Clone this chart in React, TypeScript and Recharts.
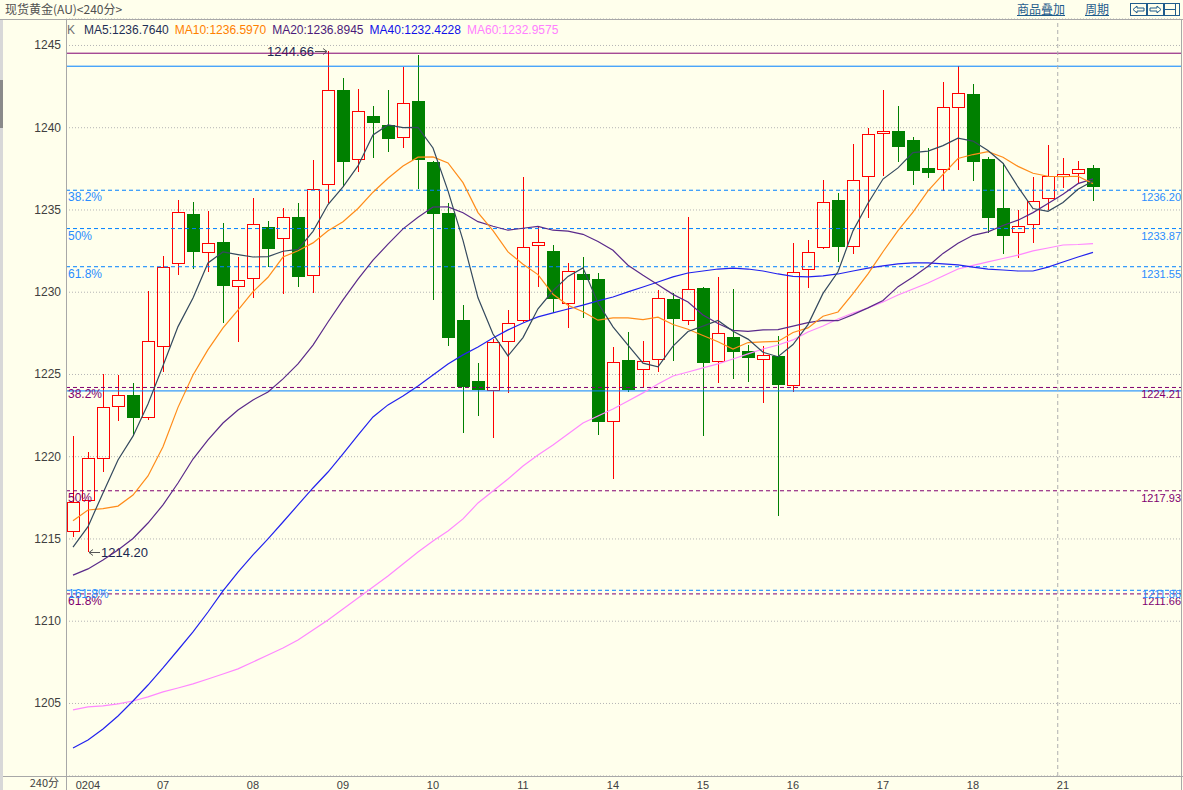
import React from 'react';
import { ComposedChart, Bar, Line, XAxis, YAxis, CartesianGrid, ReferenceLine } from 'recharts';

const OPEN = [1215.44, 1217.31, 1219.84, 1223.00, 1223.73, 1222.34, 1226.69, 1231.70, 1234.76, 1232.37,
  1233.05, 1230.30, 1230.79, 1233.95, 1233.22, 1234.56, 1230.99, 1236.52, 1242.29, 1238.02,
  1240.71, 1240.17, 1239.36, 1241.63, 1237.92, 1234.82, 1228.31, 1224.60, 1223.98, 1226.96,
  1228.27, 1232.79, 1232.51, 1229.28, 1231.09, 1230.81, 1222.09, 1225.88, 1225.25, 1225.88,
  1229.59, 1228.27, 1230.26, 1225.74, 1227.26, 1226.43, 1225.86, 1226.12, 1224.32, 1231.35,
  1232.67, 1235.61, 1232.77, 1236.99, 1239.60, 1239.80, 1239.26, 1237.57, 1237.43, 1241.18,
  1242.05, 1238.10, 1235.10, 1233.58, 1234.09, 1235.65, 1237.02, 1237.17, 1237.57];
const HIGH = [1221.28, 1220.31, 1225.01, 1224.97, 1224.46, 1230.08, 1232.20, 1235.61, 1235.49, 1234.94,
  1234.23, 1232.16, 1235.71, 1234.33, 1235.14, 1235.43, 1238.04, 1244.66, 1243.01, 1242.36,
  1241.32, 1242.29, 1243.71, 1244.42, 1237.95, 1235.41, 1229.22, 1225.70, 1227.14, 1228.92,
  1237.02, 1233.99, 1232.87, 1231.75, 1232.16, 1231.15, 1226.65, 1227.57, 1227.05, 1230.14,
  1229.95, 1234.56, 1230.30, 1230.91, 1230.18, 1226.79, 1226.73, 1227.34, 1233.01, 1233.18,
  1236.82, 1236.02, 1239.01, 1239.97, 1242.29, 1241.32, 1239.42, 1238.79, 1242.80, 1243.75,
  1242.66, 1238.20, 1237.88, 1234.98, 1237.01, 1238.95, 1238.18, 1237.98, 1237.74];
const LOW = [1215.10, 1214.20, 1219.09, 1222.19, 1221.28, 1222.23, 1225.17, 1231.05, 1231.40, 1231.25,
  1228.11, 1227.00, 1229.67, 1231.55, 1229.89, 1230.30, 1229.97, 1235.41, 1236.42, 1237.33,
  1238.18, 1238.54, 1238.75, 1236.26, 1229.53, 1226.73, 1221.46, 1222.50, 1221.12, 1223.86,
  1228.17, 1230.34, 1228.72, 1227.81, 1228.42, 1221.32, 1218.65, 1223.95, 1224.26, 1225.17,
  1225.82, 1228.01, 1221.28, 1224.46, 1224.71, 1224.56, 1223.29, 1216.42, 1223.95, 1230.28,
  1232.60, 1231.86, 1232.31, 1234.53, 1237.09, 1237.90, 1236.52, 1236.96, 1236.17, 1237.43,
  1236.78, 1233.58, 1232.31, 1232.06, 1232.98, 1235.00, 1236.36, 1236.62, 1235.57];
const CLOSE = [1217.23, 1219.91, 1223.00, 1223.73, 1222.37, 1227.02, 1231.55, 1234.86, 1232.47, 1232.98,
  1230.40, 1230.74, 1234.13, 1232.61, 1234.59, 1230.91, 1236.26, 1242.28, 1237.94, 1241.00,
  1240.31, 1239.30, 1241.49, 1238.02, 1234.74, 1227.24, 1224.26, 1224.06, 1226.98, 1228.11,
  1232.77, 1233.04, 1229.57, 1231.29, 1230.74, 1222.13, 1225.74, 1224.06, 1225.80, 1229.63,
  1228.37, 1230.18, 1225.72, 1227.50, 1226.39, 1225.98, 1226.17, 1224.36, 1231.21, 1232.43,
  1235.47, 1232.73, 1236.82, 1239.60, 1239.80, 1238.85, 1237.39, 1237.27, 1241.24, 1242.09,
  1237.94, 1234.50, 1233.44, 1234.01, 1235.57, 1237.07, 1237.19, 1237.47, 1236.42];

const MA5 = [1214.50, 1215.75, 1217.80, 1219.80, 1221.25, 1223.21, 1225.53, 1227.91, 1229.65, 1231.78,
  1232.45, 1232.29, 1232.14, 1232.17, 1232.49, 1232.60, 1233.70, 1235.33, 1236.40, 1237.68,
  1239.56, 1240.17, 1240.01, 1240.02, 1238.77, 1236.16, 1233.15, 1229.66, 1227.46, 1226.13,
  1227.24, 1228.99, 1230.09, 1230.96, 1231.48, 1229.35, 1227.89, 1226.79, 1225.69, 1225.47,
  1226.72, 1227.61, 1227.94, 1228.28, 1227.63, 1227.15, 1226.35, 1226.08, 1226.82, 1228.03,
  1229.93, 1231.24, 1233.73, 1235.41, 1236.88, 1237.56, 1238.49, 1238.58, 1238.91, 1239.37,
  1239.19, 1238.61, 1237.84, 1236.40, 1235.09, 1234.92, 1235.46, 1236.26, 1236.76];
const MA10 = [1216.11, 1216.76, 1216.84, 1217.00, 1217.67, 1218.83, 1220.61, 1223.00, 1224.97, 1226.51,
  1227.83, 1228.91, 1230.03, 1230.91, 1232.14, 1232.52, 1233.00, 1233.74, 1234.28, 1235.09,
  1236.08, 1236.93, 1237.67, 1238.21, 1238.23, 1237.86, 1236.66, 1234.84, 1233.74, 1232.45,
  1231.70, 1231.07, 1229.88, 1229.21, 1228.81, 1228.30, 1228.44, 1228.44, 1228.33, 1228.48,
  1228.04, 1227.75, 1227.37, 1226.99, 1226.55, 1226.94, 1226.98, 1227.01, 1227.55, 1227.83,
  1228.54, 1228.80, 1229.91, 1231.12, 1232.46, 1233.74, 1234.87, 1236.16, 1237.16, 1238.13,
  1238.37, 1238.55, 1238.21, 1237.65, 1237.23, 1237.05, 1237.03, 1237.05, 1236.60];
const MA20 = [1212.80, 1213.18, 1213.72, 1214.33, 1215.03, 1215.97, 1217.07, 1218.40, 1219.86, 1221.02,
  1222.05, 1222.84, 1223.45, 1223.94, 1224.73, 1225.64, 1226.79, 1228.19, 1229.53, 1230.80,
  1231.95, 1232.92, 1233.85, 1234.56, 1235.18, 1235.19, 1234.83, 1234.29, 1234.01, 1233.77,
  1233.89, 1234.00, 1233.77, 1233.71, 1233.52, 1233.08, 1232.55, 1231.64, 1231.03, 1230.46,
  1229.87, 1229.41, 1228.62, 1228.10, 1227.68, 1227.62, 1227.71, 1227.73, 1227.94, 1228.15,
  1228.29, 1228.27, 1228.64, 1229.05, 1229.50, 1230.34, 1230.92, 1231.58, 1232.36, 1232.98,
  1233.46, 1233.67, 1234.06, 1234.38, 1234.84, 1235.40, 1235.95, 1236.60, 1236.89];
const MA40 = [1202.29, 1202.78, 1203.45, 1204.24, 1205.15, 1206.12, 1207.16, 1208.25, 1209.35, 1210.56,
  1211.84, 1212.99, 1214.03, 1215.00, 1216.03, 1217.07, 1218.10, 1219.07, 1220.17, 1221.32,
  1222.42, 1223.15, 1223.69, 1224.30, 1224.97, 1225.64, 1226.19, 1226.67, 1227.22, 1227.71,
  1228.13, 1228.50, 1228.74, 1228.98, 1229.22, 1229.47, 1229.71, 1230.02, 1230.32, 1230.62,
  1230.93, 1231.17, 1231.29, 1231.41, 1231.47, 1231.41, 1231.29, 1231.11, 1230.96, 1230.93,
  1230.99, 1231.11, 1231.29, 1231.47, 1231.60, 1231.72, 1231.78, 1231.78, 1231.72, 1231.66,
  1231.53, 1231.41, 1231.35, 1231.29, 1231.29, 1231.53, 1231.84, 1232.14, 1232.42];
const MA60 = [1204.61, 1204.79, 1204.85, 1204.97, 1205.15, 1205.40, 1205.70, 1205.94, 1206.19, 1206.49,
  1206.79, 1207.10, 1207.52, 1207.95, 1208.37, 1208.86, 1209.47, 1210.08, 1210.74, 1211.41,
  1212.08, 1212.75, 1213.48, 1214.21, 1214.88, 1215.49, 1216.22, 1217.19, 1217.92, 1218.65,
  1219.44, 1220.11, 1220.71, 1221.38, 1222.05, 1222.48, 1222.90, 1223.39, 1223.88, 1224.42,
  1224.91, 1225.15, 1225.40, 1225.64, 1225.94, 1226.25, 1226.55, 1226.79, 1227.10, 1227.58,
  1227.95, 1228.37, 1228.74, 1229.04, 1229.41, 1229.83, 1230.20, 1230.56, 1230.99, 1231.41,
  1231.63, 1231.84, 1232.05, 1232.26, 1232.51, 1232.69, 1232.87, 1232.90, 1232.96];

const DAY_LABELS = ['0204', '07', '08', '09', '10', '11', '14', '15', '16', '17', '18', '21'];
const DAY_TICK_INDEX = [1, 6, 12, 18, 24, 30, 36, 42, 48, 54, 60, 66];
const Y_TICKS = [1205, 1210, 1215, 1220, 1225, 1230, 1235, 1240, 1245];

const BLUE_SOLID = [1243.74, 1224.0];
const BLUE_FIB = [1236.20, 1233.87, 1231.55, 1211.88];
const BLUE_FIB_PCT = ['38.2%', '50%', '61.8%', '161.8%'];
const PURPLE_SOLID = [1244.53];
const PURPLE_FIB = [1224.21, 1217.93, 1211.66];
const PURPLE_FIB_PCT = ['38.2%', '50%', '61.8%'];
const CURSOR_INDEX = 65.65;

const LEGEND = [
  { name: 'MA5', value: '1236.7640', color: '#1F2F55' },
  { name: 'MA10', value: '1236.5970', color: '#FF8000' },
  { name: 'MA20', value: '1236.8945', color: '#4B1A7A' },
  { name: 'MA40', value: '1232.4228', color: '#1010E8' },
  { name: 'MA60', value: '1232.9575', color: '#FF80FF' },
];

const BG = '#FFFFEC';
const RED = '#FF0000';
const GREEN = '#008000';
const BLUE = '#0080FF';
const PURPLE = '#800070';
const FRAME = '#A8A8A8';
const SANS = '"Liberation Sans", Arial, sans-serif';
const CJK = '"Noto Sans CJK SC", sans-serif';

const MAX_IDX = HIGH.reduce((b, v, i) => (v > HIGH[b] ? i : b), 0);
const MIN_IDX = LOW.reduce((b, v, i) => (v < LOW[b] ? i : b), 0);

const Candle = (props: any) => {
  const { x, y, width, height, payload } = props;
  if (x == null || y == null || !payload) return null;
  const top = Math.min(y, y + height);
  const bottom = Math.max(y, y + height);
  const { open, close, high, low, i } = payload;
  const span = high - low;
  const py = (v: number) => (span === 0 ? top : top + ((high - v) / span) * (bottom - top));
  const cx = Math.round(x + width / 2);
  const wx = cx + 0.5;
  const up = close >= open;
  const bTop = Math.round(py(Math.max(open, close)));
  const bBot = Math.round(py(Math.min(open, close)));
  const tY = Math.round(top);
  const bY = Math.round(bottom);
  const parts: any[] = [];
  if (up) {
    parts.push(<line key="w1" x1={wx} x2={wx} y1={tY} y2={bTop} stroke={RED} strokeWidth={1} />);
    parts.push(<line key="w2" x1={wx} x2={wx} y1={bBot} y2={bY} stroke={RED} strokeWidth={1} />);
    parts.push(<rect key="b" x={cx - 5.5} y={bTop + 0.5} width={12} height={Math.max(bBot - bTop - 1, 1)} fill="none" stroke={RED} strokeWidth={1} />);
  } else {
    parts.push(<line key="w" x1={wx} x2={wx} y1={tY} y2={bY} stroke={GREEN} strokeWidth={1} />);
    parts.push(<rect key="b" x={cx - 6} y={bTop} width={13} height={Math.max(bBot - bTop, 1)} fill={GREEN} />);
  }
  if (i === MAX_IDX) {
    parts.push(<text key="t" x={cx - 14} y={tY + 5} textAnchor="end" fontSize={13} fontFamily={SANS} fill="#1A2850">{high.toFixed(2)}</text>);
    parts.push(<line key="a" x1={cx - 13} x2={cx - 1} y1={tY + 0.5} y2={tY + 0.5} stroke="#555" strokeWidth={1} />);
    parts.push(<path key="ah" d={`M${cx - 1},${tY + 0.5} L${cx - 5},${tY - 2.5} M${cx - 1},${tY + 0.5} L${cx - 5},${tY + 3.5}`} stroke="#555" fill="none" strokeWidth={1} />);
  }
  if (i === MIN_IDX) {
    parts.push(<line key="a2" x1={cx + 1} x2={cx + 12} y1={bY + 0.5} y2={bY + 0.5} stroke="#555" strokeWidth={1} />);
    parts.push(<path key="ah2" d={`M${cx + 1},${bY + 0.5} L${cx + 5},${bY - 2.5} M${cx + 1},${bY + 0.5} L${cx + 5},${bY + 3.5}`} stroke="#555" fill="none" strokeWidth={1} />);
    parts.push(<text key="t2" x={cx + 13} y={bY + 5} textAnchor="start" fontSize={13} fontFamily={SANS} fill="#1A2850">{low.toFixed(2)}</text>);
  }
  return <g>{parts}</g>;
};

const FibLabel = (props: any) => {
  const { viewBox, left, right, color, dy } = props;
  if (!viewBox) return null;
  const { x, y, width } = viewBox;
  const off = dy == null ? 11 : dy;
  return (
    <g>
      {left ? <text x={x + 2} y={y + off} fill={color} fontSize={12} fontFamily={SANS}>{left}</text> : null}
      {right ? <text x={x + width} y={y + off} textAnchor="end" fill={color} fontSize={11} fontFamily={SANS}>{right}</text> : null}
    </g>
  );
};

const YTick = (props: any) => {
  const { x, y, payload } = props;
  return <text x={x} y={y + 4} textAnchor="end" fontSize={12} fontFamily={SANS} fill="#404040">{payload.value}</text>;
};

const XTick = (props: any) => {
  const { x, y, payload } = props;
  const k = DAY_TICK_INDEX.indexOf(payload.value);
  return <text x={x} y={y + 13} textAnchor="middle" fontSize={11} fontFamily={SANS} fill="#404040">{k >= 0 ? DAY_LABELS[k] : ''}</text>;
};

export default function App() {
  const rows = OPEN.map((o, i) => ({
    i,
    open: o,
    high: HIGH[i],
    low: LOW[i],
    close: CLOSE[i],
    range: [LOW[i], HIGH[i]],
    ma5: MA5[i],
    ma10: MA10[i],
    ma20: MA20[i],
    ma40: MA40[i],
    ma60: MA60[i],
  }));

  return (
    <div style={{ position: 'fixed', left: 0, top: 0, width: 1183, height: 790, background: BG, overflow: 'hidden' }}>
      <div style={{ position: 'absolute', left: 0, top: 0 }}>
        <ComposedChart width={1183} height={790} data={rows} margin={{ top: 19, right: 2, bottom: 0, left: 8 }}>
          <CartesianGrid vertical={false} stroke="#B4B4B4" strokeDasharray="1 2" />
          <XAxis
            type="number"
            dataKey="i"
            domain={[-0.4667, 73.867]}
            allowDataOverflow
            ticks={DAY_TICK_INDEX}
            interval={0}
            axisLine={false}
            tickLine={false}
            tickSize={0}
            tickMargin={0}
            height={14}
            tick={(p: any) => <XTick {...p} />}
          />
          <YAxis
            type="number"
            domain={[1200.59, 1246.61]}
            allowDataOverflow
            ticks={Y_TICKS}
            interval={0}
            axisLine={false}
            tickLine={false}
            tickSize={0}
            tickMargin={5}
            width={58}
            tick={(p: any) => <YTick {...p} />}
          />
          {PURPLE_SOLID.map((v) => (
            <ReferenceLine key={'ps' + v} y={v} stroke={PURPLE} strokeWidth={1} />
          ))}
          {BLUE_SOLID.map((v) => (
            <ReferenceLine key={'bs' + v} y={v} stroke={BLUE} strokeWidth={1} />
          ))}
          {PURPLE_FIB.map((v, k) => (
            <ReferenceLine key={'pf' + v} y={v} stroke={PURPLE} strokeDasharray="4 3" strokeWidth={1}
              label={<FibLabel left={PURPLE_FIB_PCT[k]} right={v.toFixed(2)} color={PURPLE} />} />
          ))}
          {BLUE_FIB.map((v, k) => (
            <ReferenceLine key={'bf' + v} y={v} stroke={BLUE} strokeDasharray="4 3" strokeWidth={1}
              label={<FibLabel left={BLUE_FIB_PCT[k]} right={v.toFixed(2)} color="#2A8CFF" dy={k === 3 ? 8 : 11} />} />
          ))}
          <ReferenceLine x={CURSOR_INDEX} stroke="#B0B0B0" strokeDasharray="4 3" strokeWidth={1} />
          <Bar dataKey="range" barSize={13} shape={(p: any) => <Candle {...p} />} isAnimationActive={false} />
          <Line type="linear" dataKey="ma60" stroke="#FF88FF" strokeWidth={1.2} dot={false} activeDot={false} isAnimationActive={false} />
          <Line type="linear" dataKey="ma40" stroke="#2222EE" strokeWidth={1.2} dot={false} activeDot={false} isAnimationActive={false} />
          <Line type="linear" dataKey="ma20" stroke="#5A2A8A" strokeWidth={1.2} dot={false} activeDot={false} isAnimationActive={false} />
          <Line type="linear" dataKey="ma10" stroke="#FF8C1A" strokeWidth={1.2} dot={false} activeDot={false} isAnimationActive={false} />
          <Line type="linear" dataKey="ma5" stroke="#34495E" strokeWidth={1.2} dot={false} activeDot={false} isAnimationActive={false} />
        </ComposedChart>
      </div>
      <svg width={1183} height={790} style={{ position: 'absolute', left: 0, top: 0, pointerEvents: 'none' }}>
        <line x1={0} x2={1183} y1={19.5} y2={19.5} stroke={FRAME} />
        <line x1={0} x2={1183} y1={776.5} y2={776.5} stroke={FRAME} />
        <line x1={66.5} x2={66.5} y1={19} y2={790} stroke={FRAME} />
        <line x1={1181.5} x2={1181.5} y1={19} y2={790} stroke={FRAME} />
        <rect x={0} y={20} width={3} height={770} fill="#D8D8D8" />
        <rect x={0} y={80} width={3} height={48} fill="#8A8A8A" />
        <text x={5} y={14} fontSize={12} fontFamily={CJK} fill="#505050">现货黄金(AU)&lt;240分&gt;</text>
        <text x={67} y={34} fontSize={12} fontFamily={SANS} fill="#707070">K</text>
        <text x={84} y={34} fontSize={12} fontFamily={SANS}>
          {LEGEND.map((l, k) => (
            <tspan key={l.name} fill={l.color} dx={k === 0 ? 0 : 6}>{l.name + ':' + l.value}</tspan>
          ))}
        </text>
        <text x={1017} y={14} fontSize={12} fontFamily={CJK} fill="#1F5C8C">商品叠加</text>
        <line x1={1017} x2={1065} y1={15.5} y2={15.5} stroke="#1F5C8C" />
        <text x={1085} y={14} fontSize={12} fontFamily={CJK} fill="#1F5C8C">周期</text>
        <line x1={1085} x2={1109} y1={15.5} y2={15.5} stroke="#1F5C8C" />
        <g stroke="#1F5C8C" fill="none" strokeWidth={1}>
          <rect x={1130.5} y={3.5} width={16} height={12} />
          <path d="M1133,9.5 L1137,6 L1137,8 L1144,8 L1144,11 L1137,11 L1137,13 Z" />
          <rect x={1147.5} y={3.5} width={16} height={12} />
          <path d="M1161,9.5 L1157,6 L1157,8 L1150,8 L1150,11 L1157,11 L1157,13 Z" />
          <rect x={1164.5} y={3.5} width={15} height={12} />
          <line x1={1164.5} x2={1175.5} y1={9.5} y2={9.5} />
          <line x1={1175.5} x2={1175.5} y1={3.5} y2={15.5} />
        </g>
        <text x={59} y={787} textAnchor="end" fontSize={11} fontFamily={CJK} fill="#404040">240分</text>
      </svg>
    </div>
  );
}
